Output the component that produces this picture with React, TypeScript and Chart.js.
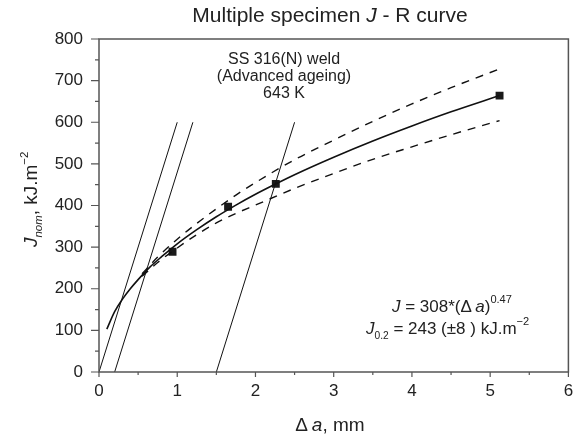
import React, { useEffect, useRef } from "react";
import { Chart, registerables } from "chart.js";

Chart.register(...registerables);

const FONT = '"Liberation Sans", Arial, Helvetica, sans-serif';
const TEXT = "#222222";
const AXIS = "#555555";

// ---- axis ticks ----
const xTickValues = [0, 1, 2, 3, 4, 5, 6];
const xMinorValues = [0.5, 1.5, 2.5, 3.5, 4.5, 5.5];
const yTickValues = [0, 100, 200, 300, 400, 500, 600, 700, 800];
const yMinorValues = [50, 150, 250, 350, 450, 550, 650, 750];

// ---- measured specimens ----
const specimenDa = [0.94, 1.65, 2.26, 5.12];
const specimenJ = [289, 397, 452, 664];

// ---- power-law fit J = 308*(da)^0.47 ----
const fitDa = [0.1, 0.2, 0.3, 0.4, 0.5, 0.65, 0.8, 1.0, 1.25, 1.5, 1.75, 2.0, 2.25, 2.5, 3.0, 3.5, 4.0, 4.5, 5.12];
const fitJ = [103, 145, 175, 200, 222, 252, 277, 308, 342, 373, 401, 427, 451, 474, 516, 555, 591, 625, 664];

// ---- scatter band (dashed) ----
const bandDa = [0.55, 0.75, 1.0, 1.25, 1.5, 1.75, 2.0, 2.5, 3.0, 3.5, 4.0, 4.5, 5.12];
const upperJ = [236, 276, 319, 357, 392, 425, 455, 510, 557, 602, 644, 683, 728];
const lowerJ = [230, 263, 298, 330, 358, 381, 401, 441, 477, 511, 541, 570, 604];

// ---- blunting line and offset lines ----
const bluntDa = [0.0, 1.0];
const offset02Da = [0.2, 1.2];
const offset15Da = [1.5, 2.5];
const lineJ = [0, 600];

type Seg = { t: string; it?: boolean; sc?: number; dy?: number };

function drawRich(
  ctx: CanvasRenderingContext2D,
  segs: Seg[],
  x: number,
  y: number,
  size: number,
  align: "left" | "center"
) {
  const fontOf = (s: Seg) => `${s.it ? "italic " : ""}${size * (s.sc || 1)}px ${FONT}`;
  const widths = segs.map((s) => {
    ctx.font = fontOf(s);
    return ctx.measureText(s.t).width;
  });
  const total = widths.reduce((a, b) => a + b, 0);
  let cx = align === "center" ? x - total / 2 : x;
  ctx.textAlign = "left";
  ctx.textBaseline = "alphabetic";
  segs.forEach((s, i) => {
    ctx.font = fontOf(s);
    ctx.fillText(s.t, cx, y + (s.dy || 0));
    cx += widths[i];
  });
}

const pts = (xs: number[], ys: number[]) => xs.map((x, i) => ({ x, y: ys[i] }));

const decorPlugin = {
  id: "decor",
  afterDraw(chart: any) {
    const ctx: CanvasRenderingContext2D = chart.ctx;
    const { left, right, top, bottom } = chart.chartArea;
    const xs = chart.scales.x;
    const ys = chart.scales.y;
    ctx.save();
    // frame
    ctx.strokeStyle = AXIS;
    ctx.lineWidth = 1.5;
    ctx.strokeRect(left, top, right - left, bottom - top);
    // ticks
    ctx.lineWidth = 1.2;
    ctx.beginPath();
    xTickValues.forEach((v) => {
      const p = xs.getPixelForValue(v);
      ctx.moveTo(p, bottom);
      ctx.lineTo(p, bottom + 5);
    });
    xMinorValues.forEach((v) => {
      const p = xs.getPixelForValue(v);
      ctx.moveTo(p, bottom);
      ctx.lineTo(p, bottom + 3);
    });
    yTickValues.forEach((v) => {
      const p = ys.getPixelForValue(v);
      ctx.moveTo(left, p);
      ctx.lineTo(left - 8, p);
    });
    yMinorValues.forEach((v) => {
      const p = ys.getPixelForValue(v);
      ctx.moveTo(left, p);
      ctx.lineTo(left - 4, p);
    });
    ctx.stroke();

    ctx.fillStyle = TEXT;
    // title
    drawRich(ctx, [{ t: "Multiple specimen " }, { t: "J", it: true }, { t: " - R curve" }], 330, 22, 21, "center");
    // material note
    drawRich(ctx, [{ t: "SS 316(N) weld" }], 284, 64, 16, "center");
    drawRich(ctx, [{ t: "(Advanced ageing)" }], 284, 81, 16, "center");
    drawRich(ctx, [{ t: "643 K" }], 284, 98, 16, "center");
    // equations
    drawRich(
      ctx,
      [
        { t: "J", it: true },
        { t: " = 308*(\u0394\u2009" },
        { t: "a", it: true },
        { t: ")" },
        { t: "0.47", sc: 0.65, dy: -9 },
      ],
      392,
      312,
      17,
      "left"
    );
    drawRich(
      ctx,
      [
        { t: "J", it: true },
        { t: "0.2", sc: 0.6, dy: 5 },
        { t: " = 243 (\u00b18 ) kJ.m" },
        { t: "\u22122", sc: 0.65, dy: -9 },
      ],
      366,
      334,
      17,
      "left"
    );
    // x title
    drawRich(ctx, [{ t: "\u0394\u2009" }, { t: "a", it: true }, { t: ", mm" }], 330, 431, 19, "center");
    // y title
    ctx.save();
    ctx.translate(37, 247);
    ctx.rotate(-Math.PI / 2);
    drawRich(
      ctx,
      [
        { t: "J", it: true },
        { t: "nom", it: true, sc: 0.6, dy: 5 },
        { t: ", kJ.m" },
        { t: "\u22122", sc: 0.6, dy: -9 },
      ],
      0,
      0,
      19,
      "left"
    );
    ctx.restore();
    ctx.restore();
  },
};

export default function App() {
  const ref = useRef<HTMLCanvasElement | null>(null);
  useEffect(() => {
    if (!ref.current) return;
    const thin = (data: any) => ({
      data,
      showLine: true,
      borderColor: "#111",
      borderWidth: 1,
      pointRadius: 0,
      fill: false,
    });
    const dashed = (data: any) => ({
      data,
      showLine: true,
      borderColor: "#111",
      borderWidth: 1.4,
      borderDash: [8, 7],
      pointRadius: 0,
      cubicInterpolationMode: "monotone",
    });
    const chart = new Chart(ref.current, {
      type: "scatter",
      data: {
        datasets: [
          thin(pts(bluntDa, lineJ)),
          thin(pts(offset02Da, lineJ)),
          thin(pts(offset15Da, lineJ)),
          dashed(pts(bandDa, upperJ)) as any,
          dashed(pts(bandDa, lowerJ)) as any,
          {
            data: pts(fitDa, fitJ),
            showLine: true,
            borderColor: "#111",
            borderWidth: 1.6,
            pointRadius: 0,
            cubicInterpolationMode: "monotone",
          } as any,
          {
            data: pts(specimenDa, specimenJ),
            showLine: false,
            pointStyle: "rect",
            pointRadius: 5.6,
            backgroundColor: "#1a1a1a",
            borderColor: "#1a1a1a",
            borderWidth: 0,
          } as any,
        ],
      },
      options: {
        animation: false,
        responsive: false,
        devicePixelRatio: 1,
        layout: { padding: { left: 0, right: 4, top: 39, bottom: 0 } },
        plugins: { legend: { display: false }, tooltip: { enabled: false }, title: { display: false } },
        scales: {
          x: {
            type: "linear",
            min: 0,
            max: 6,
            grid: { display: false, drawTicks: false },
            border: { display: false },
            ticks: {
              stepSize: 1,
              padding: 9,
              color: TEXT,
              font: { family: FONT, size: 17 },
            },
            afterFit: (s: any) => {
              s.height = 65;
              s.paddingLeft = 0;
              s.paddingRight = 0;
            },
          },
          y: {
            type: "linear",
            min: 0,
            max: 800,
            grid: { display: false, drawTicks: false },
            border: { display: false },
            ticks: {
              stepSize: 100,
              padding: 16,
              color: TEXT,
              font: { family: FONT, size: 17 },
            },
            afterFit: (s: any) => {
              s.width = 99;
              s.paddingTop = 0;
              s.paddingBottom = 0;
            },
          },
        },
      },
      plugins: [decorPlugin],
    });
    return () => chart.destroy();
  }, []);
  return (
    <div style={{ position: "absolute", left: 0, top: 0, width: 574, height: 437, background: "#fff" }}>
      <canvas ref={ref} width={574} height={437} />
    </div>
  );
}
